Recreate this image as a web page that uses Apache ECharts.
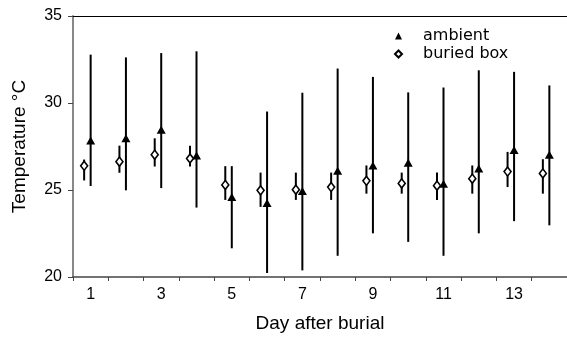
<!DOCTYPE html>
<html>
<head>
<meta charset="UTF-8">
<title>Temperature after burial</title>
<script src="https://cdn.jsdelivr.net/npm/echarts@6/dist/echarts.min.js"></script>
<style>
  html, body { margin: 0; padding: 0; background: #fff; }
  #main { width: 567px; height: 338px; }
</style>
</head>
<body>
<div id="main"></div>
<script>
// day after burial
var days = ['1','2','3','4','5','6','7','8','9','10','11','12','13','14'];
// ambient: mean, min, max
var ambientMean = [27.85, 27.97, 28.46, 26.98, 24.6, 24.26, 24.94, 26.1, 26.41, 26.56, 25.36, 26.24, 27.3, 27.02];
var ambientLow  = [25.23, 24.98, 25.11, 23.99, 21.65, 20.23, 20.38, 21.22, 22.51, 22.02, 21.22, 22.51, 23.21, 22.97];
var ambientHigh = [32.78, 32.62, 32.87, 32.97, 26.37, 29.51, 30.59, 31.98, 31.5, 30.61, 30.89, 31.88, 31.79, 31.01];
// buried box: mean, min, max
var boxMean = [26.39, 26.63, 27.03, 26.81, 25.29, 24.98, 25.02, 25.17, 25.53, 25.38, 25.25, 25.65, 26.06, 25.95];
var boxLow  = [25.55, 25.99, 26.35, 26.35, 24.43, 24.03, 24.43, 24.43, 24.79, 24.79, 24.43, 24.79, 25.17, 24.79];
var boxHigh = [26.75, 27.55, 27.97, 27.55, 26.37, 26.0, 26.0, 26.0, 26.41, 26.0, 26.0, 26.41, 27.19, 26.77];

var BOX_SHIFT = -6.5; // px, buried box drawn left of the day
var FONT = 'Liberation Sans';

function rangeRows(lo, hi) {
    return days.map(function (d, i) { return [i, lo[i], hi[i]]; });
}
function errorBar(shift) {
    return function (params, api) {
        var a = api.coord([api.value(0), api.value(1)]);
        var b = api.coord([api.value(0), api.value(2)]);
        return {
            type: 'line',
            shape: { x1: a[0] + shift, y1: a[1], x2: b[0] + shift, y2: b[1] },
            style: { stroke: '#000', lineWidth: 2 }
        };
    };
}

var myChart = echarts.init(document.getElementById('main'));
var option = {
    animation: false,
    grid: { left: 73, top: 16, bottom: 59, right: -3 },
    legend: {
        orient: 'vertical',
        left: 389, top: 23,
        itemGap: 2,
        itemWidth: 7, itemHeight: 7,
        data: [
            { name: 'ambient', icon: 'triangle' },
            { name: 'buried box', icon: 'diamond' }
        ],
        textStyle: { fontFamily: 'DejaVu Sans', fontSize: 16, color: '#000', padding: [0, 0, 0, 16] }
    },
    xAxis: [{
        type: 'category',
        data: days,
        boundaryGap: true,
        name: 'Day after burial',
        nameLocation: 'middle',
        nameGap: 37,
        nameTextStyle: { fontFamily: FONT, fontSize: 19, color: '#000' },
        axisLine: { lineStyle: { color: '#444', width: 1.5 } },
        axisTick: { show: true, interval: 0, length: 4, lineStyle: { color: '#444', width: 1 } },
        axisLabel: { interval: 1, fontFamily: FONT, fontSize: 16, color: '#000', margin: 10 }
    }, {
        type: 'category',
        data: days,
        position: 'top',
        axisLine: { lineStyle: { color: '#000', width: 1 } },
        axisTick: { show: false },
        axisLabel: { show: false }
    }],
    yAxis: {
        type: 'value',
        min: 20, max: 35, interval: 5,
        name: 'Temperature \u00b0C',
        nameLocation: 'middle',
        nameGap: 44,
        nameTextStyle: { fontFamily: FONT, fontSize: 19, color: '#000' },
        splitLine: { show: false },
        axisLine: { show: true, lineStyle: { color: '#888', width: 2 } },
        axisTick: { show: true, length: 5, lineStyle: { color: '#444' } },
        axisLabel: { fontFamily: FONT, fontSize: 16, color: '#000', margin: 11 }
    },
    series: [
        {
            type: 'custom',
            renderItem: errorBar(0),
            data: rangeRows(ambientLow, ambientHigh),
            silent: true, z: 2
        },
        {
            type: 'custom',
            renderItem: errorBar(BOX_SHIFT),
            data: rangeRows(boxLow, boxHigh),
            silent: true, z: 2
        },
        {
            name: 'ambient',
            type: 'scatter',
            data: ambientMean,
            symbol: 'triangle',
            symbolSize: [9, 8],
            itemStyle: { color: '#000', opacity: 1 },
            z: 3
        },
        {
            name: 'buried box',
            type: 'scatter',
            data: boxMean,
            symbol: 'diamond',
            symbolSize: [7, 9],
            symbolOffset: [BOX_SHIFT, 0],
            itemStyle: { color: '#fff', borderColor: '#000', borderWidth: 1.6, opacity: 1 },
            z: 3
        }
    ]
};
myChart.setOption(option);
</script>
</body>
</html>
